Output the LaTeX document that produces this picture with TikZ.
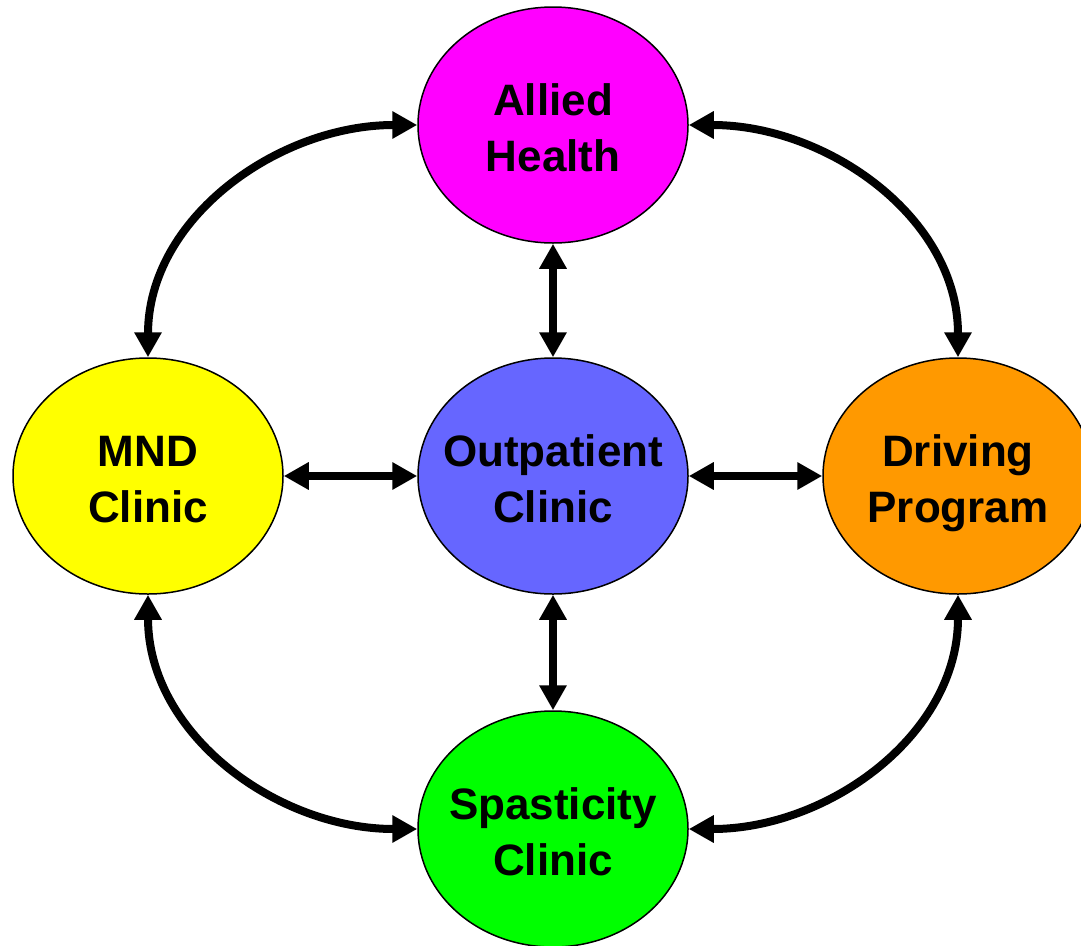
\documentclass[tikz,border=0pt]{standalone}
\usepackage{fontspec}
\setmainfont{Liberation Sans}
\usetikzlibrary{shapes.geometric,arrows.meta}
\definecolor{cmag}{HTML}{FF00FF}
\definecolor{cyel}{HTML}{FFFF00}
\definecolor{cblu}{HTML}{6666FF}
\definecolor{cora}{HTML}{FF9900}
\definecolor{cgre}{HTML}{00FF00}
\newcommand{\lbl}[2]{\makebox[0pt][c]{\raisebox{-7pt}[\height][\depth]{\begin{tabular}{@{}c@{}}#1\\#2\end{tabular}}}}
\tikzset{
  unit/.style={ellipse, draw=black, line width=1.5pt, minimum width=270pt, minimum height=236pt, inner sep=0pt, font=\fontsize{44}{56}\selectfont\bfseries},
  arr/.style={line width=8pt, {Triangle[length=25pt,width=26pt]}-{Triangle[length=25pt,width=26pt]}}
}
\begin{document}
\begin{tikzpicture}[x=1pt,y=1pt]
\clip (0,0) rectangle (1081,-945);
\fill[white] (0,0) rectangle (1081,-945);
\node[unit, fill=cmag] (AH) at (553,-125) {\lbl{Allied}{Health}};
\node[unit, fill=cyel] (MND) at (148,-476) {\lbl{MND}{Clinic}};
\node[unit, fill=cblu] (OC) at (553,-476) {\lbl{Outpatient}{Clinic}};
\node[unit, fill=cora] (DP) at (958,-476) {\lbl{Driving}{Program}};
\node[unit, fill=cgre] (SC) at (553,-829) {\lbl{Spasticity}{Clinic}};
\draw[arr] (AH.south) -- (OC.north);
\draw[arr] (OC.south) -- (SC.north);
\draw[arr] (MND.east) -- (OC.west);
\draw[arr] (OC.east) -- (DP.west);
\draw[arr] (AH.west) to[out=180,in=90] (MND.north);
\draw[arr] (AH.east) to[out=0,in=90] (DP.north);
\draw[arr] (SC.west) to[out=180,in=-90] (MND.south);
\draw[arr] (SC.east) to[out=0,in=-90] (DP.south);
\end{tikzpicture}
\end{document}
